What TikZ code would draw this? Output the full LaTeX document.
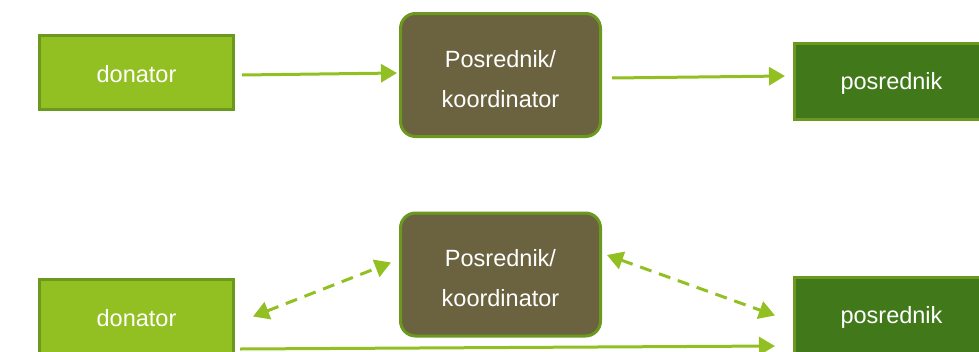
\documentclass[tikz,border=0pt]{standalone}
\usepackage{fontspec}
\setmainfont{Liberation Sans}
\usepackage{tikz}
\usetikzlibrary{arrows.meta}
\definecolor{lightgreen}{RGB}{146,192,35}
\definecolor{edgegreen}{RGB}{107,152,30}
\definecolor{olive}{RGB}{107,99,64}
\definecolor{darkgreen}{RGB}{65,120,26}

\begin{document}
\begin{tikzpicture}[x=1pt, y=-1pt,
        box/.style={draw=edgegreen, line width=3pt, text=white, inner sep=0pt,
            minimum width=194pt, minimum height=74pt, text height=20pt, text depth=0pt,
            font=\fontsize{23.5}{40}\selectfont},
        donorbox/.style={box, fill=lightgreen},
        relaybox/.style={box, fill=darkgreen, minimum height=76pt, text depth=5pt},
        coordbox/.style={box, fill=olive, rounded corners=15pt, align=center,
            minimum width=200pt, minimum height=123pt, text height=64pt, text depth=0pt},
        flow/.style={draw=lightgreen, line width=3pt, -{Triangle[length=16pt,width=18pt]}},
        link/.style={flow, {Triangle[length=16pt,width=18pt]}-{Triangle[length=16pt,width=18pt]},
            dash pattern=on 12pt off 8pt}]
        \useasboundingbox (0,0) rectangle (979,351);

        \node[donorbox] (donorTop) at (136.5, 72) {donator};
        \node[coordbox] (coordTop) at (500.5, 75) {Posrednik/\\koordinator};
        \node[relaybox] (posTop) at (891.5, 81.5) {posrednik};

        \node[donorbox] (donorBot) at (136.5, 316.5) {donator};
        \node[coordbox] (coordBot) at (500.5, 274.5) {Posrednik/\\koordinator};
        \node[relaybox] (posBot) at (891.5, 315.5) {posrednik};

        \draw[flow] ([shift={(7,3)}]donorTop.east) -- ([shift={(-2,-2)}]coordTop.west);
        \draw[flow] ([shift={(10,3)}]coordTop.east) -- ([shift={(-8,-5.5)}]posTop.west);

        \draw[link] ([shift={(18,0)}]donorBot.east) -- ([shift={(-8,-12)}]coordBot.west);
        \draw[link] ([shift={(5,-19.5)}]coordBot.east) -- ([shift={(-18,0)}]posBot.west);
        \draw[flow] ([shift={(5,-6)}]donorBot.south east) -- ([shift={(-18,-9)}]posBot.south west);
    \end{tikzpicture}
\end{document}
